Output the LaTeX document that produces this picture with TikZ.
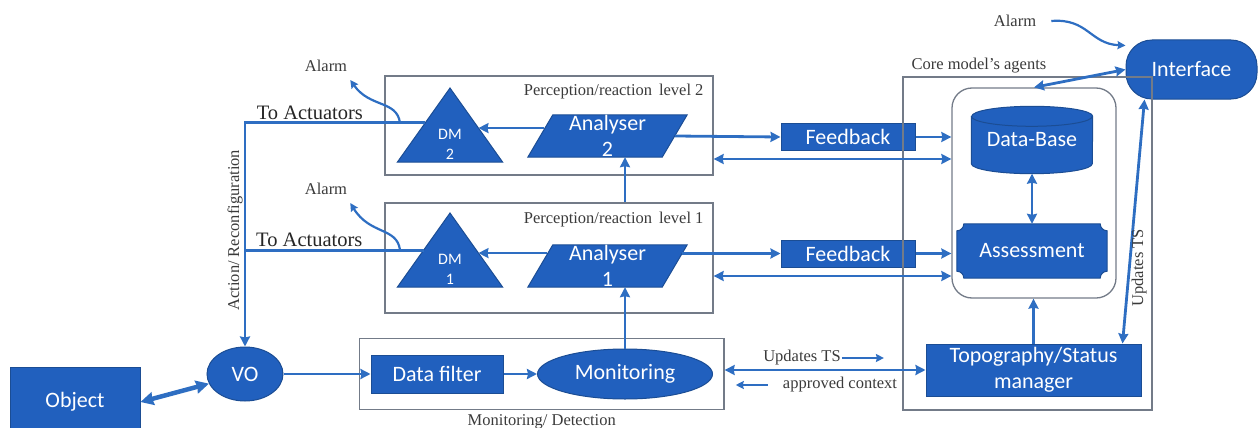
\documentclass[tikz,border=0pt]{standalone}
\usepackage{fontspec}
\setmainfont{Liberation Serif}
\newfontfamily\boxfont{Carlito}
\usetikzlibrary{arrows.meta, positioning, fit, backgrounds, calc, shapes.geometric}
\definecolor{boxblue}{HTML}{2160BE}
\definecolor{boxedge}{HTML}{1B4D94}
\definecolor{lineblue}{HTML}{2E6EC2}
\definecolor{framegray}{HTML}{737B88}
\definecolor{lblgray}{HTML}{3A3A3A}
\tikzset{
  myarr/.style    = {-{Stealth[length=10pt, width=10pt, inset=1pt]}, draw=lineblue, line width=2.8pt},
  dblarr/.style   = {{Stealth[length=10pt, width=10pt, inset=1pt]}-{Stealth[length=10pt, width=10pt, inset=1pt]}, draw=lineblue, line width=2.8pt},
  bigdbl/.style   = {{Stealth[length=13pt, width=13pt, inset=1pt]}-{Stealth[length=13pt, width=13pt, inset=1pt]}, draw=lineblue, line width=4.5pt},
  link/.style     = {draw=lineblue, line width=2.8pt},
  alarmarr/.style = {-{Stealth[length=8pt, width=8pt, inset=1pt]}, draw=lineblue, line width=2.2pt},
  smallarr/.style = {-{Stealth[length=8pt, width=8pt, inset=1pt]}, draw=lineblue, line width=2.4pt},
  %% Box presets
  bbox/.style     = {draw=boxedge, fill=boxblue, line width=1pt, text=white, align=center,
                     inner sep=0pt, font=\boxfont\fontsize{22}{26}\selectfont},
  shapetxt/.style = {text=white, align=center, inner sep=0pt, font=\boxfont\fontsize{22}{26}\selectfont},
  shapefill/.style= {draw=boxedge, fill=boxblue, line width=1pt},
  frame/.style    = {draw=framegray, line width=1.3pt, inner sep=0pt},
  lbl/.style      = {font=\fontsize{16.5}{19}\selectfont, text=lblgray, inner sep=1pt},
  actlbl/.style   = {font=\fontsize{20.5}{23}\selectfont, text=black!85, inner sep=2pt},
}

\begin{document}
\begin{tikzpicture}[x=1pt, y=1pt]
\useasboundingbox (0,0) rectangle (1258,-428);

%% ---- (1) Object and VO ----
\node[bbox, minimum width=130pt, minimum height=70pt] (object) at (75,-402) {Object};
\node[bbox, ellipse, minimum width=76pt, minimum height=54pt] (vo) at (245,-374) {VO};

%% ---- (2) Monitoring / Detection ----
\node[bbox, minimum width=132pt, minimum height=38pt] (filter) at (437,-374) {Data filter};
\node[bbox, ellipse, minimum width=175pt, minimum height=50pt] (monitor) at (625,-374) {Monitoring};
\node[frame, fit=(filter)(monitor), inner xsep=11pt, inner ysep=10pt] (monbox) {};
\node[lbl, below=3pt of monbox] (monlbl) {Monitoring/ Detection};

%% ---- (3) Perception/reaction levels ----
\node[frame, minimum width=328pt, minimum height=99pt]  (lvl2) at (549,-125.5) {};
\node[frame, minimum width=328pt, minimum height=110pt] (lvl1) at (549,-258) {};
\node[lbl, anchor=north east] (lvl2lbl) at ([shift={(-9pt,-8pt)}]lvl2.north east) {Perception/reaction\, level 2};
\node[lbl, anchor=north east] (lvl1lbl) at ([shift={(-9pt,-8pt)}]lvl1.north east) {Perception/reaction\, level 1};

\node[shapetxt, minimum width=159pt, minimum height=42pt] (an2) at (607.5,-136) {Analyser\\2};
\node[shapetxt, minimum width=159pt, minimum height=42pt] (an1) at (607.5,-266) {Analyser\\1};

\node[shapetxt, font=\boxfont\fontsize{16}{20}\selectfont, minimum width=105pt, minimum height=36pt] (dm2) at (450,-144) {DM\\2};
\node[shapetxt, font=\boxfont\fontsize{16}{20}\selectfont, minimum width=105pt, minimum height=36pt] (dm1) at (450,-269) {DM\\1};
\coordinate (dm2top) at ([yshift=56pt]dm2.center);
\coordinate (dm1top) at ([yshift=56pt]dm1.center);
\coordinate (dm2r) at ($(dm2.south east)!0.46!(dm2top)$);
\coordinate (dm2l) at ($(dm2.south west)!0.53!(dm2top)$);
\coordinate (dm1r) at ($(dm1.south east)!0.46!(dm1top)$);
\coordinate (dm1l) at ($(dm1.south west)!0.50!(dm1top)$);

%% Alarms
\node[lbl] (alarm2) at (326,-66)  {Alarm};
\node[lbl] (alarm1) at (326,-189) {Alarm};
\node[lbl] (alarm3) at (1015,-21) {Alarm};
\coordinate (alarm2start) at (400,-123);
\coordinate (alarm1start) at (400,-250);

%% ---- (4) Feedback ----
\node[bbox, minimum width=134pt, minimum height=27pt] (fb2) at (848,-137)   {Feedback};
\node[bbox, minimum width=134pt, minimum height=27pt] (fb1) at (848,-253.5) {Feedback};

%% ---- (5) Interface + core model's agents ----
\node[bbox, rounded corners=26pt, minimum width=131pt, minimum height=59pt] (iface) at (1191.5,-69.5) {Interface};

\node[frame, minimum width=249pt, minimum height=333pt] (core) at (1027.5,-243.5) {};
\node[lbl, anchor=south west] (corelbl) at ([shift={(8pt,2pt)}]core.north west) {Core model's agents};
\node[frame, rounded corners=20pt, minimum width=164pt, minimum height=210pt] (agents) at (1034,-193) {};

\node[shapetxt, minimum width=121pt, minimum height=67pt] (db) at (1032,-140) {\raisebox{-4pt}{Data-Base}};
\node[shapetxt, minimum width=150pt, minimum height=54pt] (as) at (1032,-251) {Assessment};
\node[bbox, minimum width=215pt, minimum height=52pt] (topo) at (1033.5,-370) {Topography/Status\\manager};

%% ---- (6) Connectors ----
\draw[bigdbl] (object.east) -- (vo.195);
\draw[myarr] (vo.east) -- (filter.west);
\draw[myarr] (filter.east) -- (monitor.west);
\draw[myarr] (monitor.north) -- (monitor |- an1.south);
\draw[myarr] (monitor |- lvl1.north) -- (monitor |- an2.south);

\draw[myarr] ([xshift=16pt]an2.west |- dm2r) -- (dm2r);
\draw[myarr] ([xshift=19pt]an1.west |- dm1r) -- (dm1r);

\draw[myarr] (dm2l) -- node[actlbl, above, pos=0.64] {To Actuators} (dm2l -| vo)
  -- node[lbl, rotate=90, anchor=south, pos=0.48] {Action/ Reconfiguration} (vo.north);
\draw[link] (dm1l) -- node[actlbl, above, pos=0.64] {To Actuators} (dm1l -| vo);

\draw[alarmarr] (alarm2start) .. controls (397,-100) and (370,-108) .. ([shift={(2pt,-7pt)}]alarm2.south east);
\draw[alarmarr] (alarm1start) .. controls (397,-227) and (370,-235) .. ([shift={(2pt,-7pt)}]alarm1.south east);
\draw[alarmarr] ([xshift=14pt]alarm3.east) .. controls (1088,-18) and (1090,-44) .. (iface.160);

\draw[myarr] ([xshift=-12pt]an2.east) -- (fb2.west);
\draw[myarr] (fb2.east) -- (fb2.east -| agents.west);
\draw[dblarr] ([yshift=-33.5pt]lvl2.east) -- ([yshift=-33.5pt]lvl2.east -| agents.west);
\draw[myarr] ([xshift=-5pt]an1.east |- fb1.west) -- (fb1.west);
\draw[myarr] (fb1.east) -- (fb1.east -| agents.west);
\draw[dblarr] ([yshift=-18pt]lvl1.east) -- ([yshift=-18pt]lvl1.east -| agents.west);

\draw[dblarr] (db.south) -- (as.north);
\draw[myarr] (topo.north) -- (topo.north |- agents.south);
\draw[dblarr] (agents.north) -- (iface.west);
\draw[dblarr] ([xshift=-19pt]topo.north east) --
  node[lbl, rotate=90, anchor=north, pos=0.31] {Updates TS} ([xshift=19pt]iface.south west);

\draw[dblarr] (topo.west) -- (topo.west -| monbox.east);
\node[lbl] (updlbl) at (802,-358) {Updates TS};
\node[lbl] (apprlbl) at (840,-385) {approved context};
\draw[smallarr] (updlbl.east) -- ++(42,0);
\draw[smallarr] ([xshift=-14pt]apprlbl.west) -- ++(-32,0);

%% ---- Background shapes ----
\begin{pgfonlayer}{background}
  %% DM triangles
  \filldraw[shapefill] (dm2.south west) -- (dm2top) -- (dm2.south east) -- cycle;
  \filldraw[shapefill] (dm1.south west) -- (dm1top) -- (dm1.south east) -- cycle;
  %% Analyser parallelograms
  \filldraw[shapefill] (an2.south west) -- ([xshift=-25pt]an2.south east) -- (an2.north east) -- ([xshift=25pt]an2.north west) -- cycle;
  \filldraw[shapefill] (an1.south west) -- ([xshift=-25pt]an1.south east) -- (an1.north east) -- ([xshift=25pt]an1.north west) -- cycle;
  %% Data-Base cylinder
  \filldraw[shapefill] ([yshift=-10pt]db.north west) -- ([yshift=10pt]db.south west)
    arc[start angle=180, end angle=360, x radius=60.5pt, y radius=10pt]
    -- ([yshift=-10pt]db.north east)
    arc[start angle=0, end angle=180, x radius=60.5pt, y radius=10pt] -- cycle;
  \draw[boxedge, line width=1pt] ([yshift=-10pt]db.north west)
    arc[start angle=180, end angle=360, x radius=60.5pt, y radius=10pt];
  %% Assessment (concave corners)
  \filldraw[shapefill] ([xshift=7pt]as.north west) -- ([xshift=-7pt]as.north east)
    arc[start angle=180, end angle=270, radius=7pt] -- ([yshift=7pt]as.south east)
    arc[start angle=90, end angle=180, radius=7pt] -- ([xshift=7pt]as.south west)
    arc[start angle=0, end angle=90, radius=7pt] -- ([yshift=-7pt]as.north west)
    arc[start angle=270, end angle=360, radius=7pt] -- cycle;
\end{pgfonlayer}

\end{tikzpicture}
\end{document}
